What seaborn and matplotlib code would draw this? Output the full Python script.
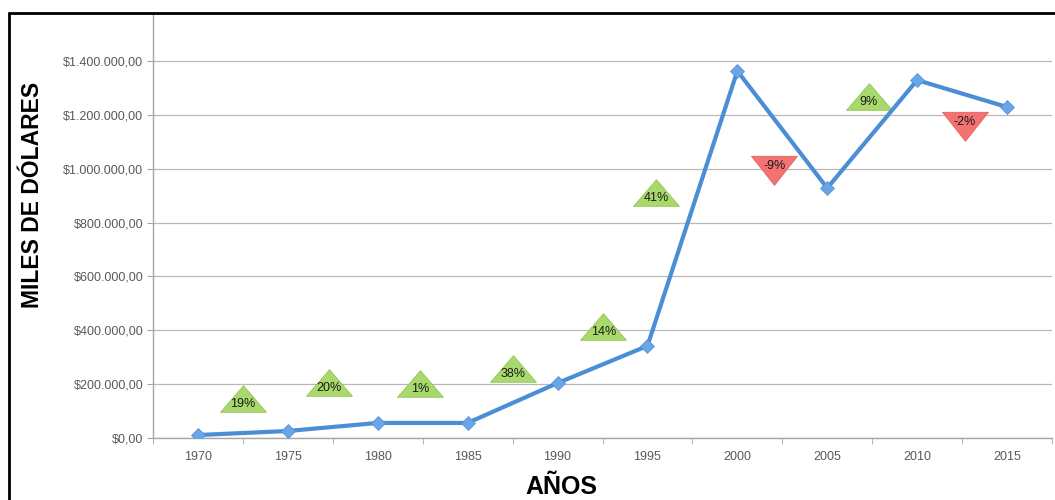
import numpy as np
import pandas as pd
import matplotlib
matplotlib.use('Agg')
import matplotlib.pyplot as plt
import seaborn as sns
from matplotlib.lines import Line2D
from matplotlib.ticker import FuncFormatter

# Data
years = ['1970', '1975', '1980', '1985', '1990', '1995', '2000', '2005', '2010', '2015']
values = [11000, 26000, 56000, 56000, 204000, 342000, 1363000, 928000, 1329000, 1229000]

# variation labels between years (position along category axis, label height)
change_labels = ['19%', '20%', '1%', '38%', '14%', '41%', '-9%', '9%', '-2%']
change_pos = [0.5, 1.46, 2.47, 3.51, 4.51, 5.1, 6.41, 7.46, 8.53]
change_y = [126000, 186000, 182000, 238000, 394000, 891000, 1010000, 1248000, 1173000]

df = pd.DataFrame({'idx': np.arange(len(years)), 'valor': values})

sns.set_style('white')
plt.rcParams['font.family'] = ['Liberation Sans', 'DejaVu Sans']

fig = plt.figure(figsize=(10.55, 5), dpi=100)
ax = fig.add_axes([153 / 1055, 62 / 500, (1052 - 153) / 1055, (438 - 14) / 500])

# percent triangles
up_verts = [(-0.5, -0.17), (0.5, -0.17), (0, 0.41), (-0.5, -0.17)]
down_verts = [(-0.45, 0.2), (0.45, 0.2), (0, -0.37), (-0.45, 0.2)]
for lab, xp, yp in zip(change_labels, change_pos, change_y):
    neg = lab.startswith('-')
    ax.plot(xp, yp, marker=down_verts if neg else up_verts, markersize=33,
            color='#f47272' if neg else '#a9d96c',
            markeredgecolor='#e46060' if neg else '#93c655', markeredgewidth=0.6,
            linestyle='none', zorder=3)
    ax.text(xp, yp, lab, ha='center', va='center', fontsize=9, color='#1a1a1a', zorder=4)

sns.lineplot(data=df, x='idx', y='valor', ax=ax, color='#4a8fd6', linewidth=3,
             marker='D', markersize=7, markerfacecolor='#6aa6e6',
             markeredgecolor='#4a8fd6', markeredgewidth=0.5, zorder=5)

ax.set_xlim(-0.5, len(years) - 0.5)
ax.set_ylim(0, 1574500)
ax.set_yticks(np.arange(0, 1400001, 200000))
ax.yaxis.set_major_formatter(FuncFormatter(
    lambda v, p: '$' + f'{v:,.2f}'.replace(',', 'X').replace('.', ',').replace('X', '.')))
ax.set_xticks(np.arange(len(years)))
ax.set_xticklabels(years)
ax.set_xticks(np.arange(len(years) + 1) - 0.5, minor=True)

ax.grid(axis='y', color='#b8b8b8', linewidth=0.9)
ax.set_axisbelow(True)
for s in ['top', 'right']:
    ax.spines[s].set_visible(False)
for s in ['left', 'bottom']:
    ax.spines[s].set_color('#a6a6a6')
    ax.spines[s].set_linewidth(1)

ax.tick_params(axis='y', which='major', length=4, color='#a6a6a6', labelsize=9,
               labelcolor='#595959', left=True, pad=3)
ax.tick_params(axis='x', which='major', length=0, labelsize=9, labelcolor='#595959', pad=9)
ax.tick_params(axis='x', which='minor', length=4, color='#a6a6a6', bottom=True)

ax.set_xlabel('')
ax.set_ylabel('')
fig.text(33 / 1055, 1 - 195 / 500, 'MILES DE DÓLARES', rotation=90, ha='center', va='center',
         fontsize=16.5, fontweight='bold', color='black')
fig.text(561 / 1055, 1 - 487 / 500, 'AÑOS', ha='center', va='center',
         fontsize=18, fontweight='bold', color='black')

# outer frame (left and top edges)
fig.add_artist(Line2D([9 / 1055, 9 / 1055], [0, 1 - 13 / 500], transform=fig.transFigure,
                      color='black', linewidth=2))
fig.add_artist(Line2D([9 / 1055, 1], [1 - 13 / 500, 1 - 13 / 500], transform=fig.transFigure,
                      color='black', linewidth=2))

fig.savefig('out.png', dpi=100)
